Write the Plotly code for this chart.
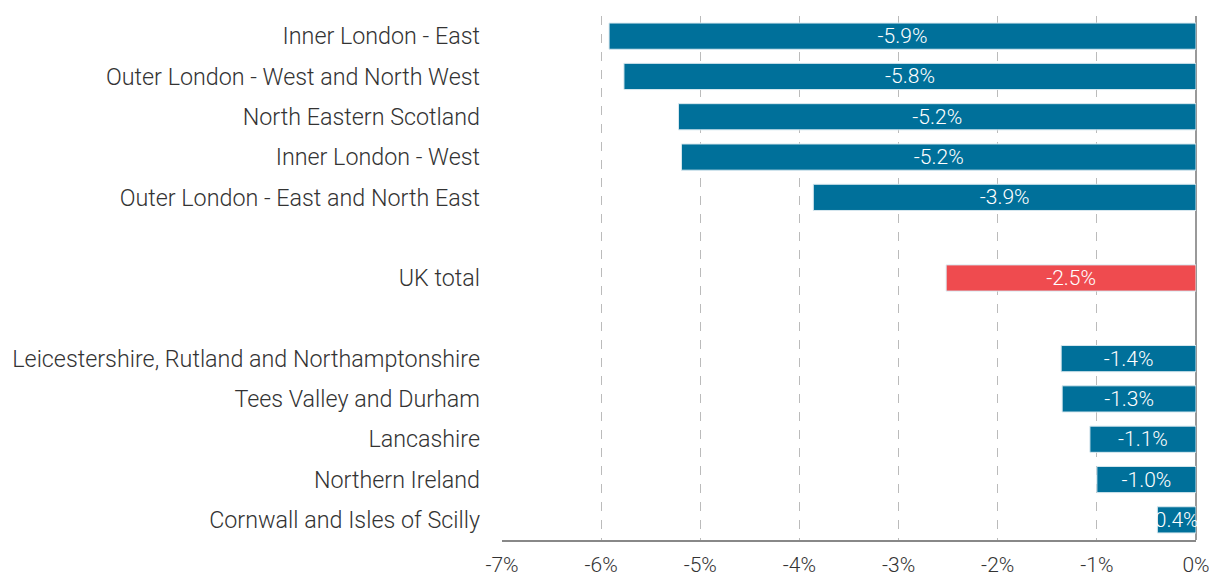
import plotly.graph_objects as go

categories = [
    "Inner London - East",
    "Outer London - West and North West",
    "North Eastern Scotland",
    "Inner London - West",
    "Outer London - East and North East",
    " ",
    "UK total",
    "  ",
    "Leicestershire, Rutland and Northamptonshire",
    "Tees Valley and Durham",
    "Lancashire",
    "Northern Ireland",
    "Cornwall and Isles of Scilly",
]
values = [-5.92, -5.77, -5.22, -5.19, -3.86, None, -2.52, None, -1.36, -1.35, -1.07, -1.0, -0.39]
labels = ["-5.9%", "-5.8%", "-5.2%", "-5.2%", "-3.9%", "", "-2.5%", "", "-1.4%", "-1.3%", "-1.1%", "-1.0%", "0.4%"]
tick_vals = [-7, -6, -5, -4, -3, -2, -1, 0]
tick_text = ["-7%", "-6%", "-5%", "-4%", "-3%", "-2%", "-1%", "0%"]

BLUE = "#00709a"
RED = "#ef4b4f"
colors = [RED if c == "UK total" else BLUE for c in categories]

fig = go.Figure(go.Bar(
    x=values,
    y=categories,
    orientation="h",
    marker=dict(color=colors, line=dict(color="#d8e8ef", width=1)),
    text=labels,
    textposition="inside",
    insidetextanchor="middle",
    textfont=dict(color="white", size=21, family="Roboto", weight=300),
    cliponaxis=False,
    hoverinfo="skip",
))

fig.update_layout(
    width=1209, height=576,
    margin=dict(l=502, r=13, t=16, b=36),
    paper_bgcolor="white", plot_bgcolor="white",
    bargap=0.35,
    showlegend=False,
    font=dict(family="Roboto", size=21, color="#333333", weight=300),
    uniformtext=dict(minsize=21, mode="show"),
)
fig.update_xaxes(
    range=[-7, 0],
    tickvals=tick_vals, ticktext=tick_text,
    showgrid=True, gridcolor="#bbbbbb", griddash="dash", gridwidth=1,
    zeroline=True, zerolinecolor="#999999", zerolinewidth=1.5,
    showline=True, linecolor="#888888", linewidth=1.5,
    ticks="", ticklabelstandoff=5,
    ticklabeloverflow="allow",
    tickfont=dict(size=21, color="#333333"),
    automargin=False,
)
fig.update_yaxes(
    categoryorder="array", categoryarray=categories,
    autorange="reversed",
    showgrid=False, showline=False, ticks="",
    ticklabelstandoff=21,
    tickfont=dict(size=23.3, color="#333333"),
    automargin=False,
)

fig.write_html(
    "out.html",
    config={"displayModeBar": False},
    post_script="document.body.style.margin='0';document.body.style.overflow='hidden';",
)
